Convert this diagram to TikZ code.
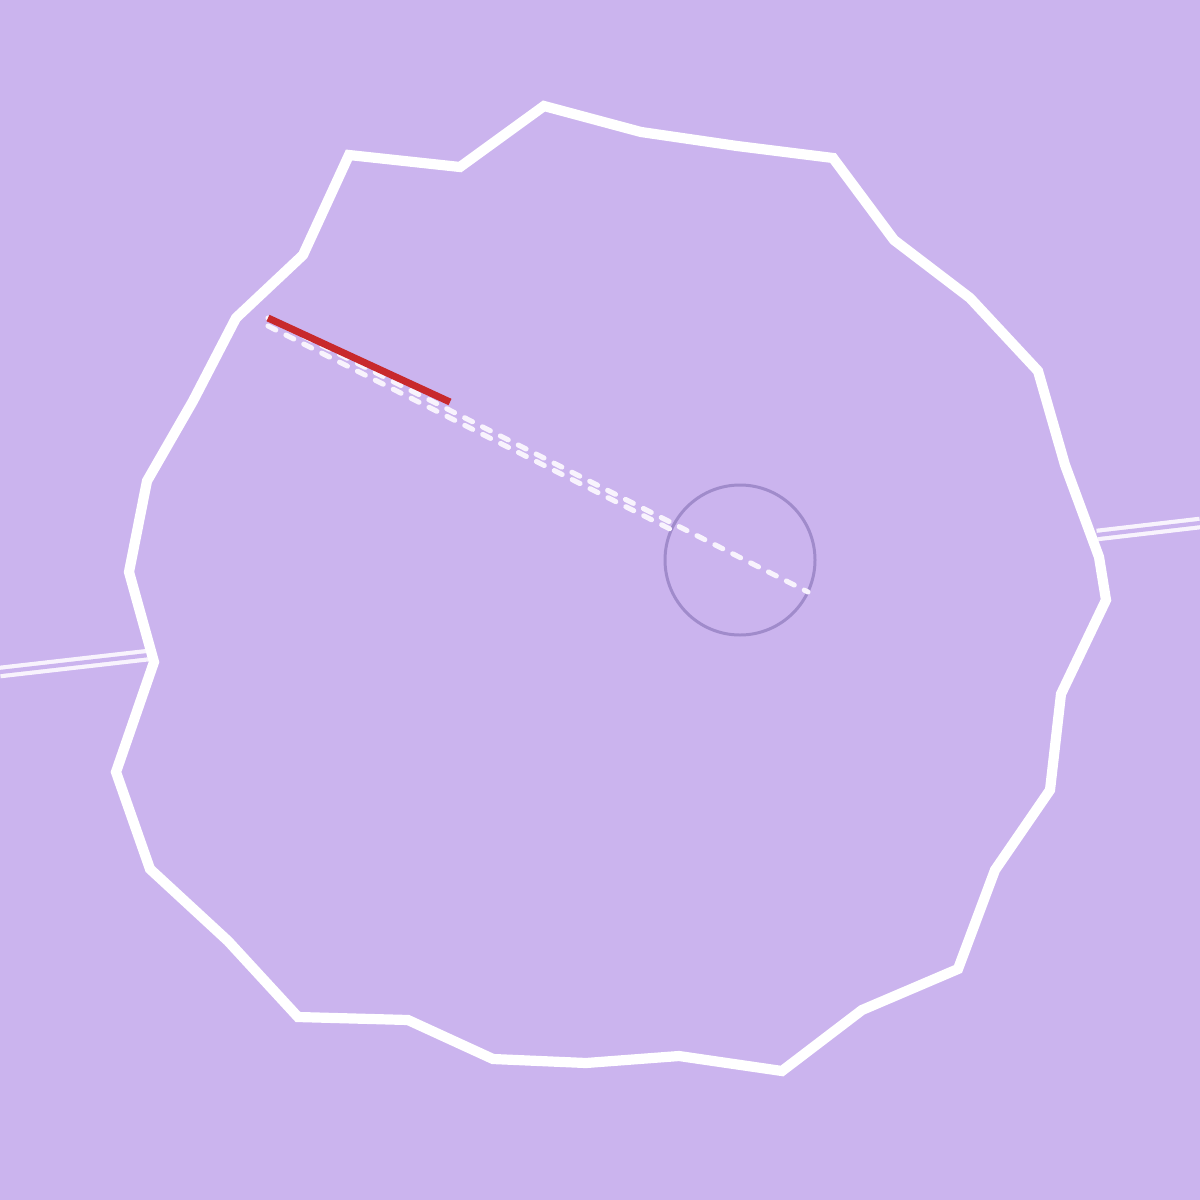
\documentclass[tikz,border=0pt]{standalone}
\usepackage{xcolor}
\usepackage{tikz}
\usetikzlibrary{calc}
\definecolor{lavender}{HTML}{CBB4EE}
\definecolor{rim}{HTML}{FFFFFF}
\definecolor{trail}{HTML}{F8F3FD}
\definecolor{ring}{HTML}{A08BCB}
\definecolor{mark}{HTML}{C8292C}

\begin{document}
\begin{tikzpicture}[
  x=0.01cm, y=-0.01cm,
  outline/.style={draw=rim, line width=2.9pt, line join=miter},
  rail/.style={draw=trail, line width=1.2pt, double=lavender, double distance=1.2pt},
  trace/.style={draw=trail, line width=1.45pt, line cap=round, dash pattern=on 2.5pt off 3.2pt},
  probe/.style={draw=ring, line width=0.85pt},
  redline/.style={draw=mark, line width=2pt}
]
  \fill[lavender] (0,0) rectangle (1200,1200);
  \useasboundingbox (0,0) rectangle (1200,1200);

  % rails outside the outline
  \coordinate (railLa) at (0,672);
  \coordinate (railLb) at (149,655);
  \coordinate (railRa) at (1097,535);
  \coordinate (railRb) at (1200,523);
  \draw[rail] (railLa) -- (railLb);
  \draw[rail] (railRa) -- (railRb);

  % outline
  \draw[outline] (544,106) -- (641,132) -- (737,146) -- (833,158) -- (894,240)
    -- (970,298) -- (1038,371) -- (1065,465) -- (1099,557) -- (1106,600)
    -- (1061,694) -- (1050,790) -- (995,870) -- (958,969) -- (862,1010)
    -- (782,1071) -- (679,1056) -- (586,1063) -- (493,1059) -- (408,1020)
    -- (298,1017) -- (228,941) -- (150,869) -- (116,772) -- (154,662)
    -- (129,572) -- (147,481) -- (193,401) -- (236,318) -- (303,255)
    -- (349,155) -- (460,167) -- cycle;

  % probe circle
  \coordinate (probeC) at (740,560);
  \draw[probe] (probeC) circle (75);

  % traces
  \coordinate (start) at (268,318);
  \coordinate (startB) at (268,326);
  \coordinate (stop) at (808,592);
  \coordinate (stopB) at (670,529);
  \coordinate (redEnd) at (450,402);
  \draw[trace] (start) -- (stop);
  \draw[trace] (startB) -- (stopB);
  \draw[redline] (start) -- (redEnd);
\end{tikzpicture}
\end{document}
